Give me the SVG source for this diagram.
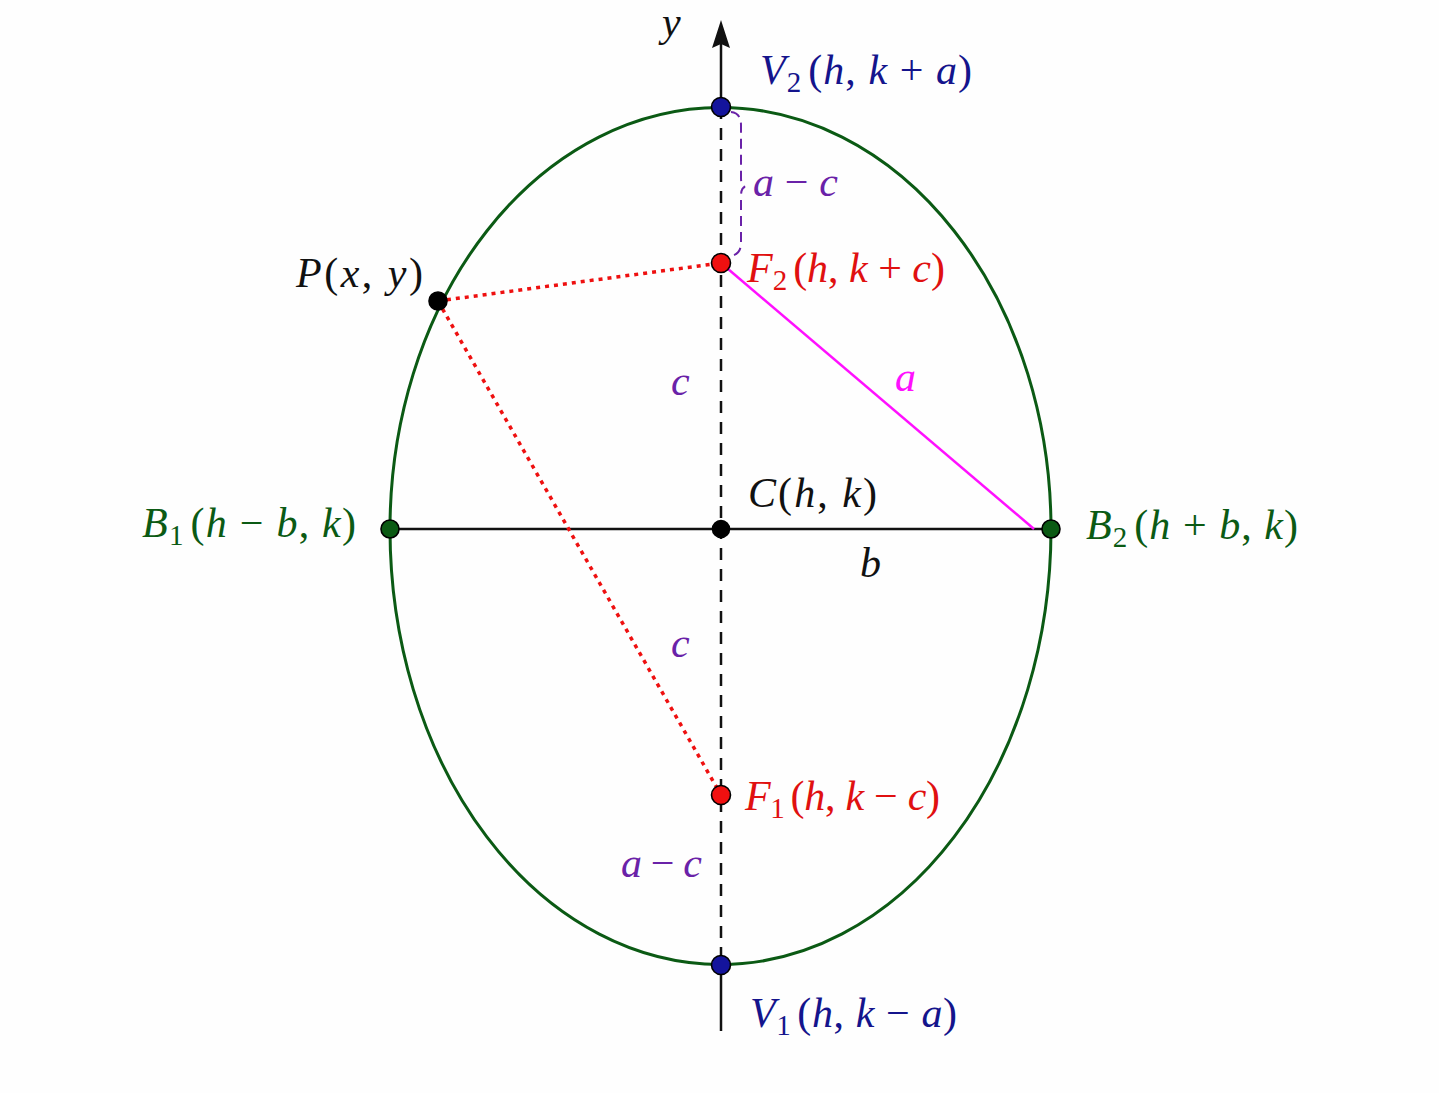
<svg xmlns="http://www.w3.org/2000/svg" width="1439" height="1093" viewBox="0 0 1439 1093">
<style>
text{font-family:"Liberation Serif","DejaVu Serif",serif;font-size:42px}
.i{font-style:italic}
.sub{font-size:29px}
.blue{fill:#14148c}
.red{fill:#e01010}
.green{fill:#0b5a14}
.purple{fill:#6a22a8}
.mag{fill:#ff10ff}
.blk{fill:#111}
.pt{stroke:#000;stroke-width:1.6}
</style>
<rect width="1439" height="1093" fill="#fefefe"/>
<g id="connectors" fill="none">
<path id="ellipse" d="M390,529 A330,421 0 0 1 1051,529 A330,435 0 0 1 390,529" stroke="#0b5a14" stroke-width="3"/>
<line x1="721" y1="40" x2="721" y2="107" stroke="#111" stroke-width="2.5"/>
<line x1="721" y1="107" x2="721" y2="965" stroke="#111" stroke-width="2.5" stroke-dasharray="12,9"/>
<line x1="721" y1="965" x2="721" y2="1031" stroke="#111" stroke-width="2.5"/>
<path d="M721,20 L730,48 L721,44 L712,48 Z" fill="#111"/>
<line x1="390" y1="529" x2="1051" y2="529" stroke="#111" stroke-width="2.5"/>
<line x1="721" y1="263" x2="1034" y2="529" stroke="#ff10ff" stroke-width="2.5"/>
<line x1="438" y1="301" x2="721" y2="263" stroke="#ee1010" stroke-width="3.5" stroke-dasharray="4,5"/>
<line x1="438" y1="301" x2="721" y2="795" stroke="#ee1010" stroke-width="3.5" stroke-dasharray="4,5"/>
<path d="M731,112 Q741,113 741,125 L741,178 Q741,186 745,187 Q741,188 741,196 L741,243 Q741,254 731,256" stroke="#6a22a8" stroke-width="2" stroke-dasharray="10,6"/>
</g>
<g id="V2"><circle class="pt" cx="721" cy="107" r="9.5" fill="#14149c"/>
<text x="760" y="84" class="blue" textLength="212" lengthAdjust="spacing"><tspan class="i">V</tspan><tspan class="sub" dy="8">2</tspan><tspan dy="-8" dx="6">(</tspan><tspan class="i">h</tspan>, <tspan class="i">k</tspan> + <tspan class="i">a</tspan>)</text></g>
<g id="F2"><circle class="pt" cx="721" cy="263" r="9.5" fill="#f01010"/>
<text x="747" y="282" class="red" textLength="198" lengthAdjust="spacing"><tspan class="i">F</tspan><tspan class="sub" dy="8">2</tspan><tspan dy="-8" dx="6">(</tspan><tspan class="i">h</tspan>, <tspan class="i">k</tspan> + <tspan class="i">c</tspan>)</text></g>
<g id="P"><circle class="pt" cx="438" cy="301" r="9" fill="#000"/>
<text x="296" y="287" class="blk" textLength="127" lengthAdjust="spacing"><tspan class="i">P</tspan>(<tspan class="i">x</tspan>, <tspan class="i">y</tspan>)</text></g>
<g id="C"><circle class="pt" cx="721" cy="529" r="8.5" fill="#000"/>
<text x="748" y="507" class="blk" textLength="129" lengthAdjust="spacing"><tspan class="i">C</tspan>(<tspan class="i">h</tspan>, <tspan class="i">k</tspan>)</text></g>
<g id="B1"><circle class="pt" cx="390" cy="529" r="9" fill="#0b5a14"/>
<text x="142" y="537" class="green" textLength="214" lengthAdjust="spacing"><tspan class="i">B</tspan><tspan class="sub" dy="8">1</tspan><tspan dy="-8" dx="6">(</tspan><tspan class="i">h</tspan> − <tspan class="i">b</tspan>, <tspan class="i">k</tspan>)</text></g>
<g id="B2"><circle class="pt" cx="1051" cy="529" r="9" fill="#0b5a14"/>
<text x="1086" y="539" class="green" textLength="212" lengthAdjust="spacing"><tspan class="i">B</tspan><tspan class="sub" dy="8">2</tspan><tspan dy="-8" dx="6">(</tspan><tspan class="i">h</tspan> + <tspan class="i">b</tspan>, <tspan class="i">k</tspan>)</text></g>
<g id="F1"><circle class="pt" cx="721" cy="795" r="9.5" fill="#f01010"/>
<text x="745" y="810" class="red" textLength="195" lengthAdjust="spacing"><tspan class="i">F</tspan><tspan class="sub" dy="8">1</tspan><tspan dy="-8" dx="6">(</tspan><tspan class="i">h</tspan>, <tspan class="i">k</tspan> − <tspan class="i">c</tspan>)</text></g>
<g id="V1"><circle class="pt" cx="721" cy="965" r="9.5" fill="#14149c"/>
<text x="750" y="1027" class="blue" textLength="207" lengthAdjust="spacing"><tspan class="i">V</tspan><tspan class="sub" dy="8">1</tspan><tspan dy="-8" dx="6">(</tspan><tspan class="i">h</tspan>, <tspan class="i">k</tspan> − <tspan class="i">a</tspan>)</text></g>
<g id="labels">
<text x="662" y="36" class="blk i">y</text>
<text x="753" y="196" class="purple" textLength="85" lengthAdjust="spacing"><tspan class="i">a</tspan> − <tspan class="i">c</tspan></text>
<text x="671" y="395" class="purple i">c</text>
<text x="895" y="391" class="mag i">a</text>
<text x="860" y="577" class="blk i">b</text>
<text x="671" y="657" class="purple i">c</text>
<text x="621" y="877" class="purple" textLength="81" lengthAdjust="spacing"><tspan class="i">a</tspan> − <tspan class="i">c</tspan></text>
</g>
</svg>
